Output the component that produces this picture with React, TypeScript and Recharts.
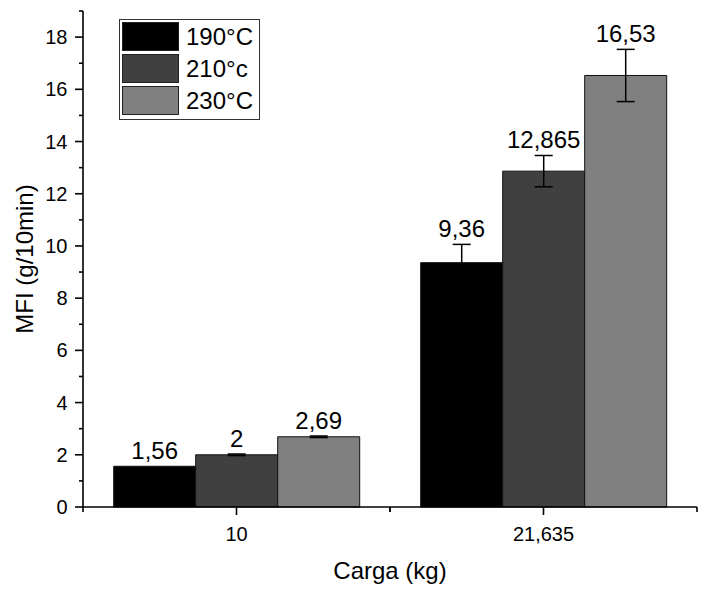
import { Bar, BarChart, ErrorBar, LabelList, Legend, XAxis, YAxis } from 'recharts'

const categories = ['10', '21,635']
const series190 = [1.56, 9.36]
const series210 = [2, 12.865]
const series230 = [2.69, 16.53]
const err190 = [0, 0.7]
const err210 = [0.03, 0.6]
const err230 = [0.03, 1.0]
const seriesNames = ['190°C', '210°c', '230°C']
const seriesColors = ['#000000', '#404040', '#808080']
const yTicks = Array.from({ length: 20 }, (_, i) => i)

const FONT = '"Liberation Sans", Arial, sans-serif'

const data = categories.map((c, i) => ({
  carga: c,
  t190: series190[i],
  t210: series210[i],
  t230: series230[i],
  e190: err190[i],
  e210: err210[i],
  e230: err230[i],
}))

function fmt(v: number) {
  return String(v).replace('.', ',')
}

function YTick(props: any) {
  const { x, y, payload } = props
  const major = payload.value % 2 === 0
  const len = major ? 8 : 4
  return (
    <g>
      <line x1={x - len} x2={x} y1={y} y2={y} stroke="#000" strokeWidth={1.6} />
      {major ? (
        <text x={x - 15.5} y={y + 7} textAnchor="end" fontSize={20} fontFamily={FONT} fill="#000">
          {payload.value}
        </text>
      ) : null}
    </g>
  )
}

function XTick(props: any) {
  const { x, y, payload } = props
  const half = payload.offset || 0
  return (
    <g>
      <line x1={x} x2={x} y1={y} y2={y + 8} stroke="#000" strokeWidth={1.6} />
      {half ? (
        <>
          <line x1={x - half} x2={x - half} y1={y} y2={y + 5} stroke="#000" strokeWidth={1.6} />
          <line x1={x + half} x2={x + half} y1={y} y2={y + 5} stroke="#000" strokeWidth={1.6} />
        </>
      ) : null}
      <text x={x} y={y + 34} textAnchor="middle" fontSize={20} fontFamily={FONT} fill="#000">
        {payload.value}
      </text>
    </g>
  )
}

// value label sits just above the error bar
function makeLabel(errs: number[]) {
  return (props: any) => {
    const vb = props.viewBox || {}
    const x = props.x ?? vb.x
    const y = props.y ?? vb.y
    const width = props.width ?? vb.width
    const height = props.height ?? vb.height
    const value = Number(props.value)
    const err = errs[props.index] || 0
    const pxPerUnit = value ? height / value : 0
    return (
      <text
        x={x + width / 2}
        y={y - err * pxPerUnit - 7}
        textAnchor="middle"
        fontSize={24}
        fontFamily={FONT}
        fill="#000"
      >
        {fmt(value)}
      </text>
    )
  }
}

function LegendBox(props: any) {
  const items = props.payload || []
  return (
    <div
      style={{
        border: '1.5px solid #333',
        background: '#fff',
        padding: '2px 6px 1px 2px',
        fontFamily: FONT,
        fontSize: 24,
        lineHeight: '28px',
      }}
    >
      {items.map((it: any) => (
        <div key={it.value} style={{ display: 'flex', alignItems: 'center', marginBottom: 3 }}>
          <div
            style={{
              width: 55,
              height: 27,
              background: it.color,
              border: '1px solid #222',
              marginRight: 7,
            }}
          />
          <span style={{ color: '#000' }}>{it.value}</span>
        </div>
      ))}
    </div>
  )
}

export default function App() {
  return (
    <div style={{ position: 'absolute', left: 0, top: 0, width: 701, height: 596, background: '#fff' }}>
      <BarChart
        width={701}
        height={596}
        data={data}
        margin={{ top: 11, right: 4, bottom: 0, left: 0 }}
        barCategoryGap="10%"
        barGap={0}
      >
        <XAxis
          dataKey="carga"
          height={89}
          axisLine={{ stroke: '#000', strokeWidth: 1.6 }}
          tickLine={false}
          tickSize={0}
          tickMargin={0}
          tick={<XTick />}
          label={{
            value: 'Carga (kg)',
            position: 'insideBottom',
            offset: 17,
            fontSize: 24,
            fontFamily: FONT,
            fill: '#000',
          }}
        />
        <YAxis
          width={83}
          domain={[0, 19]}
          ticks={yTicks}
          interval={0}
          axisLine={{ stroke: '#000', strokeWidth: 1.6 }}
          tickLine={false}
          tickSize={0}
          tickMargin={0}
          tick={<YTick />}
          label={{
            value: 'MFI (g/10min)',
            angle: -90,
            position: 'center',
            dx: -17,
            fontSize: 24,
            fontFamily: FONT,
            fill: '#000',
          }}
        />
        <Legend
          layout="horizontal"
          verticalAlign="middle"
          align="center"
          content={<LegendBox />}
          wrapperStyle={{ left: 119, top: 19, width: 'auto' }}
        />
        <Bar dataKey="t190" name={seriesNames[0]} fill={seriesColors[0]} stroke="#111" strokeWidth={1} isAnimationActive={false}>
          <ErrorBar dataKey="e190" width={9} stroke="#000" strokeWidth={1.5} direction="y" />
          <LabelList dataKey="t190" content={makeLabel(err190)} />
        </Bar>
        <Bar dataKey="t210" name={seriesNames[1]} fill={seriesColors[1]} stroke="#111" strokeWidth={1} isAnimationActive={false}>
          <ErrorBar dataKey="e210" width={9} stroke="#000" strokeWidth={1.5} direction="y" />
          <LabelList dataKey="t210" content={makeLabel(err210)} />
        </Bar>
        <Bar dataKey="t230" name={seriesNames[2]} fill={seriesColors[2]} stroke="#111" strokeWidth={1} isAnimationActive={false}>
          <ErrorBar dataKey="e230" width={9} stroke="#000" strokeWidth={1.5} direction="y" />
          <LabelList dataKey="t230" content={makeLabel(err230)} />
        </Bar>
      </BarChart>
    </div>
  )
}
